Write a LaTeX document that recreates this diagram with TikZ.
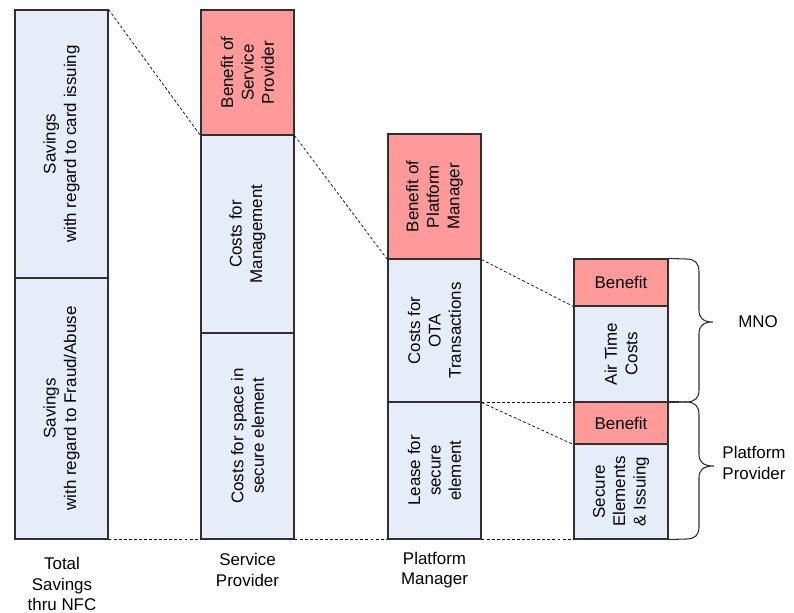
\documentclass[tikz,border=0pt]{standalone}
\usepackage{fontspec}
\setmainfont{Liberation Sans}
\usetikzlibrary{fit}
\definecolor{costfill}{HTML}{E7EDF8}
\definecolor{benefitfill}{HTML}{FF9A9A}
\definecolor{edge}{HTML}{303030}
\tikzset{
  cell/.style={draw=edge, line width=0.8pt, inner sep=0pt},
  costcell/.style={cell, fill=costfill},
  benefitcell/.style={cell, fill=benefitfill},
  lbl/.style={align=center, font=\fontsize{12.7}{15.3}\selectfont, inner sep=0pt},
  vlbl/.style={lbl, rotate=90},
  guide/.style={draw=black, line width=0.5pt, dash pattern=on 2.2pt off 1.6pt},
  brace/.style={draw=edge, line width=0.8pt}
}
\begin{document}
\begin{tikzpicture}[x=0.75pt, y=-0.75pt]
\useasboundingbox (0,0) rectangle (794,613);

% Total savings column
\node[costcell, fit={(15,10) (108,278)}] (card) {};
\node[costcell, fit={(15,278) (108,539)}] (fraud) {};
\node[vlbl] at (card) {Savings\\with regard to card issuing};
\node[vlbl] at (fraud) {Savings\\with regard to Fraud/Abuse};

% Service provider column
\node[benefitcell, fit={(201,10) (294,135)}] (spben) {};
\node[costcell, fit={(201,135) (294,333)}] (mgmt) {};
\node[costcell, fit={(201,333) (294,539)}] (space) {};
\node[vlbl] at (spben) {Benefit of\\Service\\Provider};
\node[vlbl] at (mgmt) {Costs for\\Management};
\node[vlbl] at (space) {Costs for space in\\secure element};

% Platform manager column
\node[benefitcell, fit={(388,134) (481,259)}] (pmben) {};
\node[costcell, fit={(388,259) (481,402)}] (ota) {};
\node[costcell, fit={(388,402) (481,539)}] (lease) {};
\node[vlbl] at (pmben) {Benefit of\\Platform\\Manager};
\node[vlbl] at (ota) {Costs for\\OTA\\Transactions};
\node[vlbl] at (lease) {Lease for\\secure\\element};

% MNO and platform provider column
\node[benefitcell, fit={(574,259) (668,306)}] (mnoben) {};
\node[costcell, fit={(574,306) (668,402)}] (air) {};
\node[benefitcell, fit={(574,402) (668,444)}] (ppben) {};
\node[costcell, fit={(574,444) (668,539)}] (se) {};
\node[lbl] at (mnoben) {Benefit};
\node[vlbl] at (air) {Air Time\\Costs};
\node[lbl] at (ppben) {Benefit};
\node[vlbl] at (se) {Secure\\Elements\\\& Issuing};

% Dashed guide lines between columns
\draw[guide] (card.north east) -- (spben.south west);
\draw[guide] (spben.south east) -- (pmben.south west);
\draw[guide] (pmben.south east) -- (mnoben.south west);
\draw[guide] (ota.south east) -- (air.south west);
\draw[guide] (ota.south east) -- (ppben.south west);
\draw[guide] (fraud.south east) -- (space.south west);
\draw[guide] (space.south east) -- (lease.south west);
\draw[guide] (lease.south east) -- (se.south west);

% Braces
\coordinate (mnotip) at (713,322);
\coordinate (pptip) at (714,466);
\draw[brace] (mnoben.north east) -- (686,259) .. controls (695,259) and (699,263) .. (699,272)
  -- (699,310) .. controls (699,318) and (703,322) .. (mnotip)
  .. controls (703,322) and (699,326) .. (699,334)
  -- (699,390) .. controls (699,398) and (695,402) .. (686,402) -- (air.south east);
\draw[brace] (ppben.north east) -- (686,402) .. controls (695,402) and (699,406) .. (699,415)
  -- (699,454) .. controls (699,462) and (703,466) .. (pptip)
  .. controls (703,466) and (699,470) .. (699,478)
  -- (699,527) .. controls (699,535) and (695,539) .. (686,539) -- (se.south east);

% Group labels
\node[lbl] (mno) at (758,322) {MNO};
\node[lbl] (pp) at (754,463) {Platform\\Provider};
\node[lbl] (lbltotal) at (62,584) {Total\\Savings\\thru NFC};
\node[lbl] (lblsp) at (247.5,570) {Service\\Provider};
\node[lbl] (lblpm) at (434.5,570) {Platform\\Manager};
\end{tikzpicture}
\end{document}
